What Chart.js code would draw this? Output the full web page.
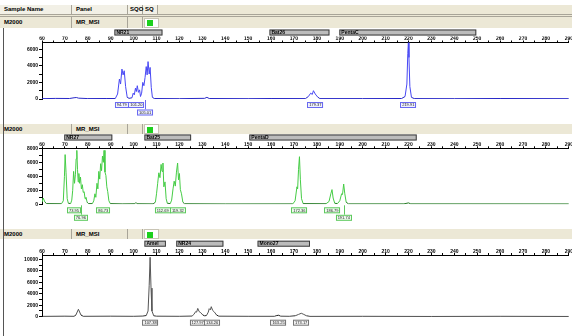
<!DOCTYPE html>
<html>
<head>
<meta charset="utf-8">
<script src="https://cdn.jsdelivr.net/npm/chart.js@4.4.1/dist/chart.umd.min.js"></script>
<style>
body{margin:0;width:572px;height:336px;overflow:hidden;background:#fff;position:relative;font-family:"Liberation Sans",Arial,sans-serif;font-weight:bold;font-size:6px;color:#000}
.band{position:absolute;left:0;width:572px;background:#ece8d6}
.cell{position:absolute;top:0;height:100%;line-height:9px;padding-left:4px;box-sizing:border-box;border-right:1px solid #a8a498;white-space:nowrap}
.hline{position:absolute;left:0;width:572px;height:1px;background:#a8a498}
.sq{position:absolute;width:15px;height:10px;background:#fff;border:1px solid #c8c4b4;box-sizing:border-box}
.sq i{position:absolute;left:2px;top:1.5px;width:6px;height:6px;background:#1ed01e}
.leftline{position:absolute;left:3px;top:28px;width:1px;height:308px;background:#555}
canvas{position:absolute;left:0}
</style>
</head>
<body>

<div class="band" style="top:5px;height:23px"></div>
<div class="band" style="top:5px;height:9px;width:158px;background:#f2f0e6">
  <div class="cell" style="left:0;width:72px">Sample Name</div>
  <div class="cell" style="left:72px;width:56px">Panel</div>
  <div class="cell" style="left:128px;width:15px;padding-left:2px">SQO</div>
  <div class="cell" style="left:143px;width:15px;padding-left:2px">SQ</div>
</div>
<div class="hline" style="top:14px"></div>
<div class="hline" style="top:16px"></div>

<div class="band" style="top:17px;height:11px">
  <div class="cell" style="left:0;width:72px;line-height:11px">M2000</div>
  <div class="cell" style="left:72px;width:56px;line-height:11px">MR_MSI</div>
  <div class="cell" style="left:128px;width:15px"></div>
  <div class="sq" style="left:144px;top:0.5px"><i></i></div>
</div>
<div class="band" style="top:124px;height:10px">
  <div class="cell" style="left:0;width:72px;line-height:10px">M2000</div>
  <div class="cell" style="left:72px;width:56px;line-height:10px">MR_MSI</div>
  <div class="cell" style="left:128px;width:15px"></div>
  <div class="sq" style="left:144px;top:0"><i></i></div>
</div>
<div class="band" style="top:229px;height:10px">
  <div class="cell" style="left:0;width:72px;line-height:10px">M2000</div>
  <div class="cell" style="left:72px;width:56px;line-height:10px">MR_MSI</div>
  <div class="cell" style="left:128px;width:15px"></div>
  <div class="sq" style="left:144px;top:0"><i></i></div>
</div>
<div class="leftline"></div>

<canvas id="c1" width="572" height="94" style="top:28px"></canvas>
<canvas id="c2" width="572" height="94" style="top:134px"></canvas>
<canvas id="c3" width="572" height="97" style="top:239px"></canvas>

<script>
// panel 1 (blue dye)
const p1Size = [60,66,72,74,75,76,80,88,92,93,93.8,94.3,94.9,95.4,95.9,96.5,97.2,98,99.3,99.8,100.3,100.8,101.2,101.6,102.1,102.6,103,103.5,104,104.5,105,105.5,105.9,106.3,106.8,107.2,107.7,108.2,109,120,131,132,133,150,160,175,176.3,177.3,178,178.5,179.3,180.3,181.3,200,217,218.5,219.3,219.7,219.95,220.2,220.6,221.3,222.5,240,260,290];
const p1Rfu  = [40,70,60,150,180,100,50,60,60,600,2400,1800,3600,2900,3400,1500,200,80,150,700,500,1300,900,1600,800,1100,300,700,2000,1600,2600,3900,2900,4500,3000,3800,1400,200,60,40,80,200,60,40,60,50,300,700,550,1000,600,250,50,50,60,300,1800,5500,6800,5000,1500,200,50,40,60,40];
const p1YTicks = [0,1000,2000,3000,4000,5000,6000];
const p1BinNames = ["NR21","Bat26","PentaC"];
const p1BinStart = [91.6,159.3,189.8];
const p1BinEnd   = [112.6,185.5,249.6];
const p1Peaks    = [94.79,101.20,105.01,179.37,219.91];
const p1PeakRow  = [0,0,1,0,0];

// panel 2 (green dye)
const p2Size = [60,60.5,61.3,62,68.5,69.3,69.8,70.1,70.5,71,71.5,72.5,73,73.4,73.8,74.2,74.6,74.9,75.2,75.5,75.8,76.1,76.4,76.8,77.2,77.6,78,78.4,78.8,79.2,79.7,80.3,82,82.6,83.1,83.5,84,84.4,84.8,85.2,85.6,86,86.4,86.8,87.1,87.5,87.9,88.3,88.7,89.2,89.8,95,100.5,101,101.5,108.5,109.5,110,110.5,111,111.5,112,112.4,112.8,113.2,113.7,114.2,114.7,116,116.6,117.2,117.7,118.2,118.7,119.2,119.6,120,120.4,120.9,121.5,122.2,140,169.5,170.5,171.3,171.6,172,172.4,172.8,173.3,174,184,185.3,186.1,186.6,187.1,187.8,189,190,190.8,191.2,191.7,192.2,192.8,193.8,218,220,221,290];
const p2Rfu  = [300,900,300,100,80,500,4000,7100,4500,800,150,100,600,2000,4700,3000,4300,6500,7700,5000,3200,4400,3000,3900,2200,2800,1700,1800,800,1000,300,100,100,500,1500,1000,3000,2200,4700,3600,5800,4800,6900,6000,7700,4600,4100,2500,1800,500,100,60,80,250,80,60,300,1500,3000,4500,3800,5700,4700,5900,2500,3200,800,150,100,600,2200,3300,2600,4600,5900,3500,4400,2100,1500,300,80,50,60,500,2500,2200,5000,6800,3500,800,100,80,400,1500,2100,900,150,100,500,1500,1400,2900,1500,300,60,60,200,60,50];
const p2YTicks = [0,1000,2000,3000,4000,5000,6000,7000,8000];
const p2BinNames = ["NR27","Bat25","PentaD"];
const p2BinStart = [69.7,104.7,150.5];
const p2BinEnd   = [90.7,125.1,223.6];
const p2Peaks    = [73.95,76.96,86.73,112.69,119.32,172.36,186.79,191.74];
const p2PeakRow  = [0,1,0,0,0,0,0,1];

// panel 3 (black dye)
const p3Size = [60,70,74,74.8,75.9,77,78,90,100,104,105.5,106.3,106.8,107.2,107.6,108,108.8,110,120,125.5,126.3,127.1,127.5,128,128.6,129.3,130.2,131,131.8,132.6,133,133.5,133.9,134.5,135.3,136.2,137.2,150,161.5,162.5,163.3,164.2,168,170.5,172,173.2,174.3,175.5,177,200,230,260,290];
const p3Rfu  = [50,80,60,300,1300,300,60,80,60,100,200,1000,5500,10400,5000,1000,150,80,60,100,400,900,800,1450,900,700,300,150,200,800,1400,1200,1750,1100,800,300,80,60,60,200,250,80,60,150,400,600,400,150,50,60,40,60,40];
const p3YTicks = [0,1000,2000,3000,4000,5000,6000,7000,8000,9000,10000];
const p3BinNames = ["Amel","NR24","Mono27"];
const p3BinStart = [104.7,118.6,154.1];
const p3BinEnd   = [114.1,139.2,177];
const p3Peaks    = [107.38,127.97,134.26,163.25,173.17];
const p3PeakRow  = [0,0,0,0,0];

const sizeTicks = [60,70,80,90,100,110,120,130,140,150,160,170,180,190,200,210,220,230,240,250,260,270,280,290];

const marks = {
  id: "marks",
  afterDraw(chart, args, o) {
    const ctx = chart.ctx, xs = chart.scales.x, ys = chart.scales.y;
    ctx.save();
    // bins
    o.names.forEach((n, i) => {
      const a = xs.getPixelForValue(o.start[i]), b = xs.getPixelForValue(o.end[i]);
      ctx.fillStyle = "#bcbcbc";
      ctx.fillRect(a, o.binY, b - a, 6);
      ctx.strokeStyle = "#3c3c3c";
      ctx.lineWidth = 1;
      ctx.strokeRect(a + 0.5, o.binY + 0.5, b - a - 1, 5);
      ctx.fillStyle = "#000";
      ctx.font = "bold 5px 'Liberation Sans', Arial";
      ctx.textBaseline = "middle";
      ctx.textAlign = "left";
      ctx.fillText(n, a + 2, o.binY + 3.3);
    });
    // peak labels
    const zero = ys.getPixelForValue(0);
    ctx.font = "4px 'Liberation Sans', Arial";
    ctx.textAlign = "center";
    o.peaks.forEach((p, i) => {
      const x = xs.getPixelForValue(p);
      const y = zero + 3 + o.rows[i] * 7.5;
      const t = p.toFixed(2);
      const w = Math.max(ctx.measureText(t).width + 4, 13);
      if (o.rows[i] > 0) {
        ctx.strokeStyle = o.edge;
        ctx.beginPath();
        ctx.moveTo(Math.round(x) + 0.5, zero + 1);
        ctx.lineTo(Math.round(x) + 0.5, y);
        ctx.stroke();
      }
      ctx.fillStyle = o.fill;
      ctx.fillRect(x - w / 2, y, w, 6);
      ctx.strokeStyle = o.edge;
      ctx.strokeRect(Math.round(x - w / 2) + 0.5, y + 0.5, Math.round(w) - 1, 5);
      ctx.fillStyle = "#222";
      ctx.fillText(t, x, y + 3.3);
    });
    ctx.restore();
  }
};

function panel(id, sizes, rfu, yTicks, yMax, padTop, padBottom, dark, light, m) {
  new Chart(document.getElementById(id), {
    type: "scatter",
    data: {
      datasets: [{
        data: sizes.map((s, i) => ({x: s, y: rfu[i]})),
        showLine: true,
        borderColor: light,
        borderWidth: 1,
        pointRadius: 0,
        tension: 0,
        segment: {
          borderColor: c => (c.p0.parsed.y < 400 && c.p1.parsed.y < 400) ? dark : light
        }
      }]
    },
    options: {
      responsive: false,
      animation: false,
      devicePixelRatio: 1,
      layout: {padding: {top: padTop, right: 1, bottom: padBottom, left: 0}},
      plugins: {legend: {display: false}, tooltip: {enabled: false}, marks: m},
      scales: {
        x: {
          type: "linear",
          position: "top",
          min: 60, max: 290,
          afterFit: s => { s.height = 6; },
          afterBuildTicks: s => {
            const t = [];
            for (let v = 60; v <= 290; v += 5) t.push({value: v});
            s.ticks = t;
          },
          ticks: {
            autoSkip: false, maxRotation: 0, padding: -1, color: "#000",
            font: {size: 5, weight: "bold", lineHeight: 1},
            callback: v => sizeTicks.includes(v) ? String(v) : ""
          },
          grid: {drawOnChartArea: false, tickLength: 2, color: "#000"},
          border: {color: "#000"}
        },
        y: {
          min: 0, max: yMax,
          afterFit: s => { s.width = 42; },
          afterBuildTicks: s => { s.ticks = yTicks.map(v => ({value: v})); },
          ticks: {
            autoSkip: false, padding: 1, color: "#000",
            font: {size: 5, weight: "bold", lineHeight: 1},
            callback: v => v % 2000 === 0 ? String(v) : ""
          },
          grid: {drawOnChartArea: false, tickLength: 3, color: "#000"},
          border: {color: "#000"}
        }
      }
    },
    plugins: [marks]
  });
}

panel("c1", p1Size, p1Rfu, p1YTicks, 6800, 8.5, 23, "#2828c8", "#4848f4",
  {names: p1BinNames, start: p1BinStart, end: p1BinEnd, peaks: p1Peaks, rows: p1PeakRow, binY: 1.5, edge: "#6a6af0", fill: "#eef0ff"});
panel("c2", p2Size, p2Rfu, p2YTicks, 8000, 8.3, 23.7, "#237a23", "#45cc45",
  {names: p2BinNames, start: p2BinStart, end: p2BinEnd, peaks: p2Peaks, rows: p2PeakRow, binY: 0.5, edge: "#5ec85e", fill: "#eefcee"});
panel("c3", p3Size, p3Rfu, p3YTicks, 10800, 10, 19.3, "#1a1a1a", "#555555",
  {names: p3BinNames, start: p3BinStart, end: p3BinEnd, peaks: p3Peaks, rows: p3PeakRow, binY: 1.7, edge: "#777777", fill: "#f2f2f2"});
</script>
</body>
</html>
